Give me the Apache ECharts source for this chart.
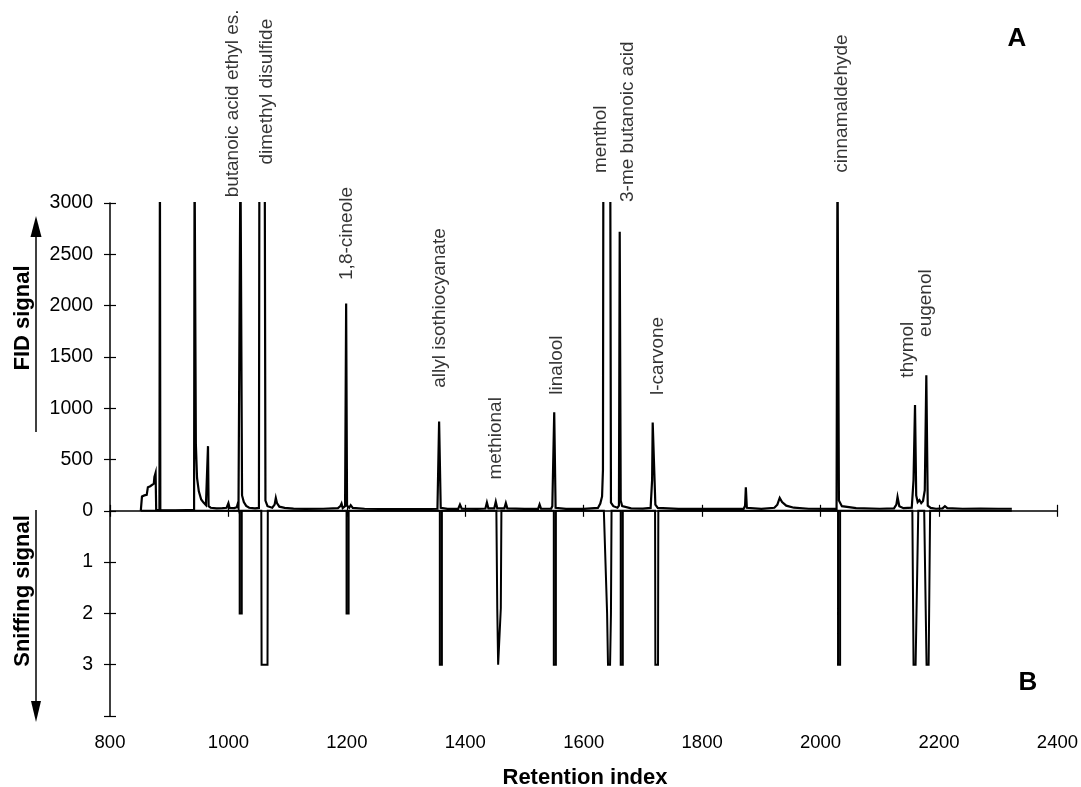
<!DOCTYPE html>
<html>
<head>
<meta charset="utf-8">
<script src="https://cdn.jsdelivr.net/npm/echarts@6/dist/echarts.min.js"></script>
<style>
html,body{margin:0;padding:0;background:#fff;}
#chart{width:1081px;height:787px;}
</style>
</head>
<body>
<div id="chart"></div>
<script>
// ---- data ----
// x tick values (retention index)
const xTickValues = [800, 1000, 1200, 1400, 1600, 1800, 2000, 2200, 2400];
// FID tick labels (upper half) and sniffing tick labels (lower half)
const fidTickValues = [0, 500, 1000, 1500, 2000, 2500, 3000];
const sniffTickValues = [1, 2, 3];

// FID trace: [retention index, signal]
const fidTrace = [
  [852,0],[854,140],[858,150],[862,155],[864,230],[868,240],[871,255],[874,265],[875,330],[877,370],[878,10],
  [881,6],[883.5,6],[884.3,3500],[885,6],[890,5],[910,5],[930,6],[942,8],
  [942.8,3500],[944,3500],[945,650],[947,320],[950,190],[954,110],[958,80],[962,55],[964.5,50],[965.5,630],[966.5,45],
  [970,30],[980,24],[990,26],[997,30],[1000,75],[1002,28],[1010,26],[1014,35],[1015.5,65],[1017,30],[1019.5,35],
  [1020.3,3500],[1021.5,3500],[1023,150],[1026,85],[1030,48],[1035,30],[1045,24],[1051.5,28],
  [1052.3,3500],[1061.3,3500],[1062.5,100],[1066,45],[1074,30],[1078,60],[1080,125],[1082,75],[1086,40],[1095,28],
  [1110,22],[1130,18],[1160,20],[1185,26],[1189,45],[1191,70],[1193,26],[1197,45],
  [1198.8,2020],[1200.3,50],[1204,30],[1206.5,55],[1208,65],[1210,28],[1230,20],[1280,16],[1330,16],[1353,20],
  [1355.8,870],[1358.5,30],[1370,18],[1388,18],[1391,60],[1394,20],[1420,18],[1434,22],
  [1436.5,80],[1439,24],[1449,24],[1451.5,88],[1454,24],[1466,24],[1468.5,75],[1471,24],[1500,18],[1523,18],
  [1525.5,62],[1528,20],[1545,22],[1547,45],[1548.5,28],[1550.2,960],[1552.5,30],[1570,18],[1600,18],
  [1624,28],[1628,70],[1631,140],[1632.5,400],
  [1633.2,3500],[1644.8,3500],[1646,80],[1650,45],[1657,30],[1659.5,50],[1660.8,2720],[1662.5,100],[1665,45],
  [1680,24],[1700,22],[1713,28],[1715.5,300],[1716.5,860],[1719,860],[1721,60],[1725,28],[1760,18],[1820,18],
  [1870,18],[1872.5,50],[1873.8,230],[1875.5,30],[1878,18],[1900,18],[1922,30],[1927,60],[1931,125],[1935,85],
  [1942,50],[1955,30],[1980,20],[2027,18],
  [2028.6,3500],[2029.6,3500],[2031,100],[2036,45],[2060,26],[2100,20],[2124,24],[2128,60],[2130,135],[2133,45],
  [2140,26],[2154,30],[2157,300],[2159.5,1030],[2161.5,150],[2164,85],[2167,105],[2170,75],[2173,95],[2176,200],
  [2178.6,1320],[2181,50],[2186,28],[2195,20],[2206,24],[2210,45],[2214,26],[2240,20],[2270,22],[2300,20],[2323,20]
];

// Sniffing trace: [retention index, sniffing intensity] (drawn downward)
const sniffTrace = [
  [852,0],
  [1019,0],[1019,2],[1022.5,2],[1022.5,0],
  [1055.5,0],[1056,3],[1066,3],[1066.5,0],
  [1199.5,0],[1199.5,2],[1203,2],[1203,0],
  [1357,0],[1357,3],[1360.5,3],[1360.5,0],
  [1452.5,0],[1454,1.9],[1455.5,3],[1458.5,3],[1460,1.9],[1461,0],
  [1549.5,0],[1549.5,3],[1553,3],[1553,0],
  [1634,0],[1639.5,2],[1641,3],[1644.5,3],[1646,2],[1647,0],
  [1662.5,0],[1662.5,3],[1666,3],[1666,0],
  [1720.5,0],[1721,3],[1725.5,3],[1726,0],
  [2029.5,0],[2029.5,3],[2033,3],[2033,0],
  [2155,0],[2157,3],[2160.5,3],[2165,0],
  [2175,0],[2179,3],[2182.5,3],[2185,0],
  [2323,0]
];

// Compound names and where their labels sit: [retention index, FID level of label start]
const compoundNames = ['butanoic acid ethyl es.','dimethyl disulfide','1,8-cineole','allyl isothiocyanate','methional',
  'linalool','menthol','3-me butanoic acid','l-carvone','cinnamaldehyde','thymol','eugenol'];
const labelRI = [1008, 1065, 1200, 1357, 1452, 1555, 1630, 1675, 1726, 2036, 2148, 2178];
const labelLevel = [3050, 3370, 2245, 1195, 300, 1127, 3287, 3005, 1124, 3290, 1293, 1690];

// ---- chart ----
const FONT = "'Liberation Sans', Arial, sans-serif";
const chart = echarts.init(document.getElementById('chart'), null, {renderer: 'canvas'});

const labelData = compoundNames.map((n, i) => [labelRI[i], labelLevel[i], n]);

function yLabel(v) {
  if (v >= 0) return fidTickValues.indexOf(v) >= 0 ? String(v) : '';
  const s = -v / 500;
  return sniffTickValues.indexOf(s) >= 0 ? String(s) : '';
}

const axisLineStyle = {color: '#000', width: 1.5};
const xMin = xTickValues[0], xMax = xTickValues[xTickValues.length - 1];
const xInterval = xTickValues[1] - xTickValues[0];

const option = {
  backgroundColor: '#fff',
  animation: false,
  grid: {left: 110, right: 23, top: 203, bottom: 71, containLabel: false},
  xAxis: [
    {type: 'value', position: 'bottom', min: xMin, max: xMax, interval: xInterval,
     axisLine: {show: true, lineStyle: axisLineStyle},
     axisTick: {show: true, inside: false, length: 6, lineStyle: {color: '#000', width: 1.2}},
     axisLabel: {color: '#000', fontFamily: FONT, fontSize: 18.5, margin: 17,
       formatter: v => (xTickValues.indexOf(v) >= 0 ? String(v) : '')},
     splitLine: {show: false}},
    {type: 'value', position: 'bottom', min: xMin, max: xMax, interval: xInterval,
     axisLine: {show: false},
     axisTick: {show: true, inside: true, length: 6, lineStyle: {color: '#000', width: 1.2}},
     axisLabel: {show: false}, splitLine: {show: false}}
  ],
  yAxis: [
    {type: 'value', position: 'left', min: -2000, max: 3000, interval: 500,
     axisLine: {show: true, lineStyle: axisLineStyle},
     axisTick: {show: true, inside: false, length: 6, lineStyle: {color: '#000', width: 1.2}},
     axisLabel: {color: '#000', fontFamily: FONT, fontSize: 19.5, margin: 17, formatter: yLabel},
     splitLine: {show: false}},
    {type: 'value', position: 'left', min: -2000, max: 3000, interval: 500,
     axisLine: {show: false},
     axisTick: {show: true, inside: true, length: 6, lineStyle: {color: '#000', width: 1.2}},
     axisLabel: {show: false}, splitLine: {show: false}},
    {type: 'value', position: 'right', min: -6, max: 4, inverse: true, show: false,
     splitLine: {show: false}}
  ],
  series: [
    {name: 'FID', type: 'line', xAxisIndex: 0, yAxisIndex: 0, data: fidTrace,
     showSymbol: false, symbol: 'none', clip: true,
     lineStyle: {color: '#000', width: 2.2, join: 'miter'}},
    {name: 'Sniffing', type: 'line', xAxisIndex: 0, yAxisIndex: 2, data: sniffTrace,
     showSymbol: false, symbol: 'none', clip: true,
     lineStyle: {color: '#000', width: 2, join: 'miter'}},
    {name: 'labels', type: 'scatter', xAxisIndex: 0, yAxisIndex: 0, data: labelData,
     symbol: 'circle', symbolSize: 1, itemStyle: {color: 'rgba(0,0,0,0)'}, clip: false, silent: true,
     label: {show: true, position: [0, 0], rotate: 90, align: 'left', verticalAlign: 'middle',
       color: '#000', fontFamily: FONT, fontSize: 19,
       formatter: p => p.value[2]}}
  ],
  graphic: [
    {type: 'text', x: 23, y: 318, rotation: Math.PI / 2,
     style: {text: 'FID signal', font: 'bold 22px ' + FONT, fill: '#000', align: 'center', verticalAlign: 'middle'}},
    {type: 'text', x: 23, y: 591, rotation: Math.PI / 2,
     style: {text: 'Sniffing signal', font: 'bold 22px ' + FONT, fill: '#000', align: 'center', verticalAlign: 'middle'}},
    {type: 'line', shape: {x1: 36, y1: 432, x2: 36, y2: 234}, style: {stroke: '#000', lineWidth: 1.5}},
    {type: 'polygon', shape: {points: [[36, 216], [30.5, 237], [41.5, 237]]}, style: {fill: '#000'}},
    {type: 'line', shape: {x1: 36, y1: 510, x2: 36, y2: 704}, style: {stroke: '#000', lineWidth: 1.5}},
    {type: 'polygon', shape: {points: [[36, 722], [31, 701], [41, 701]]}, style: {fill: '#000'}},
    {type: 'text', x: 585, y: 778,
     style: {text: 'Retention index', font: 'bold 22px ' + FONT, fill: '#000', align: 'center', verticalAlign: 'middle'}},
    {type: 'text', x: 1017, y: 39,
     style: {text: 'A', font: 'bold 26px ' + FONT, fill: '#000', align: 'center', verticalAlign: 'middle'}},
    {type: 'text', x: 1028, y: 683,
     style: {text: 'B', font: 'bold 26px ' + FONT, fill: '#000', align: 'center', verticalAlign: 'middle'}}
  ]
};
chart.setOption(option);
</script>
</body>
</html>
